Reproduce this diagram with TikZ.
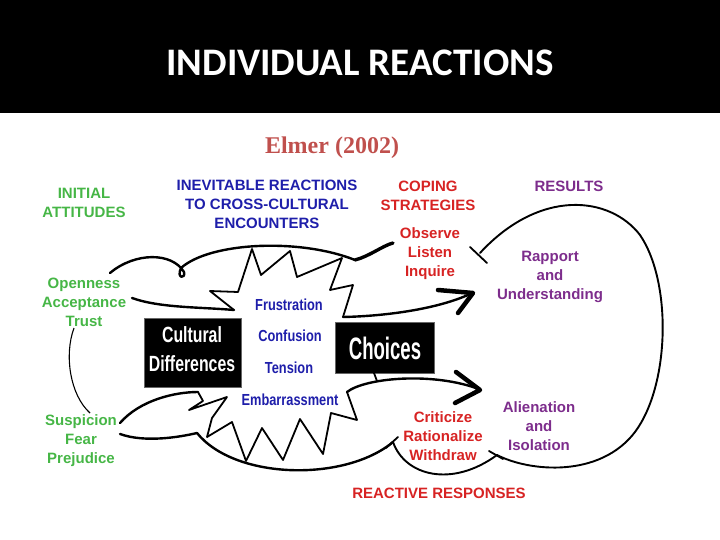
\documentclass[tikz,border=0pt]{standalone}
\usepackage{graphicx}
\usepackage{fontspec}
\setmainfont{Liberation Sans}
\newfontfamily\titlefont{Carlito}
\newfontfamily\elmerfont{Liberation Serif}
\definecolor{elmer}{RGB}{192,80,77}
\definecolor{grn}{RGB}{70,182,70}
\definecolor{blu}{RGB}{30,30,170}
\definecolor{rd}{RGB}{215,35,35}
\definecolor{pur}{RGB}{125,45,140}
\newcommand\cnd[2][0.8]{\scalebox{#1}[1]{#2}}
\begin{document}
\begin{tikzpicture}[x=1pt,y=-1pt,
  lab/.style={font=\bfseries\fontsize{15}{19}\selectfont, align=center, inner sep=0pt},
  cword/.style={font=\bfseries\fontsize{16}{18}\selectfont, text=blu, inner sep=0pt},
  blackbox/.style={fill=black, draw=black!60, line width=0.6pt},
  sk/.style={line width=2.4pt, line cap=round, line join=round},
  zz/.style={line width=1.8pt, line cap=round, line join=round},
  thin loop/.style={line width=1.9pt, line cap=round},
  head/.style={line width=4.5pt, line cap=round, line join=round}]
\useasboundingbox (0,0) rectangle (720,540);
% title band
\fill[black] (0,0) rectangle (720,113);
\node[text=white, inner sep=0pt, font=\titlefont\bfseries\fontsize{39}{40}\selectfont] (title) at (360,63) {INDIVIDUAL REACTIONS};
\node[text=elmer, inner sep=0pt, font=\elmerfont\bfseries\fontsize{24}{26}\selectfont] (elmer) at (332,148) {Elmer (2002)};

% headings
\node[lab, text=grn] (initial) at (84,203) {INITIAL\\ATTITUDES};
\node[lab, text=blu] (inevitable) at (267,204) {INEVITABLE REACTIONS\\TO CROSS-CULTURAL\\ENCOUNTERS};
\node[lab, text=rd] (coping) at (428,196) {COPING\\STRATEGIES};
\node[lab, text=pur] (results) at (569,186) {RESULTS};

% side labels
\node[lab, text=grn] (open) at (84,302) {Openness\\Acceptance\\Trust};
\node[lab, text=grn] (susp) at (81,441) {Suspicion\\Fear\\Prejudice};
\node[lab, text=rd] (observe) at (430,254) {Observe\\Listen\\Inquire};
\node[lab, text=pur] (rapport) at (550,277) {Rapport\\and\\Understanding};
\node[lab, text=rd] (criticize) at (443,436) {Criticize\\Rationalize\\Withdraw};
\node[lab, text=pur] (alien) at (539,426) {Alienation\\and\\Isolation};
\node[lab, text=rd] (reactive) at (439,493) {REACTIVE RESPONSES};

% boxes
\draw[blackbox] (144,318) rectangle (241,387);
\node[text=white, align=center, inner sep=0pt, font=\bfseries\fontsize{22}{29}\selectfont] (cultural) at (192,349) {\cnd[0.72]{Cultural}\\\cnd[0.72]{Differences}};
\draw[blackbox] (335,322) rectangle (434,373);
\node[text=white, inner sep=0pt, font=\bfseries\fontsize{31}{33}\selectfont] (choices) at (385,348) {\cnd[0.6]{Choices}};

% centre words
\node[cword] (frus) at (289,305) {\cnd{Frustration}};
\node[cword] (conf) at (290,336) {\cnd{Confusion}};
\node[cword] (tens) at (289,368) {\cnd{Tension}};
\node[cword] (emb) at (290,400) {\cnd{Embarrassment}};

% named points
\coordinate (oA) at (110,273);
\coordinate (oB) at (132,298);
\coordinate (sA) at (120,423);
\coordinate (sB) at (120,434);
\coordinate (obsEnd) at (393,243);
\coordinate (upHead) at (473,293);
\coordinate (lowHead) at (480,390);
\coordinate (wdr) at (393,442);
\coordinate (iso) at (497,455);
\coordinate (obsTick) at (480,253);

% upper outline of the burst (from Openness)
\draw[sk] (oA) .. controls (135,252) and (172,252) .. (184,272)
  .. controls (186,279) and (176,279) .. (181,268)
  .. controls (210,242) and (300,238) .. (355,260);
\draw[sk, line width=3.4pt] (355,260) .. controls (370,256) and (382,246) .. (obsEnd);
\draw[sk] (oB) .. controls (160,308) and (200,307) .. (234,310);

% upper zigzag
\draw[zz] (234,310) -- (210,291) -- (238,292) -- (252,249) -- (261,275) -- (290,251)
  -- (297,277) -- (342,258) -- (330,290) -- (353,285) -- (343,317);

% upper exit arrow
\draw[sk] (343,317) .. controls (390,316) and (440,308) .. (470,294);
\draw[head] (438,290) -- (upHead) -- (458,313);

% Suspicion lines
\draw[sk] (sA) .. controls (140,400) and (175,392) .. (198,392);
\draw[sk] (sB) .. controls (145,443) and (180,437) .. (197,433);

% lower zigzag
\draw[zz] (198,392) -- (203,401) -- (189,410) -- (227,397) -- (212,418) -- (207,437)
  -- (232,422) -- (246,461) -- (262,428) -- (283,460) -- (300,419) -- (323,454)
  -- (331,413) -- (357,420) -- (347,392);

% bottom arc
\draw[sk] (197,433) .. controls (235,480) and (345,482) .. (wdr);

% lower exit arrow
\draw[sk] (347,392) .. controls (365,378) and (430,372) .. (476,388);
\draw[head] (456,372) -- (lowHead) -- (455,403);
\draw[zz] (374,373) -- (377,381);

% feedback loop
\draw[thin loop] (wdr) .. controls (405,476) and (452,488) .. (iso);
\draw[thin loop] (iso) .. controls (530,472) and (600,478) .. (635,432)
  .. controls (670,385) and (672,282) .. (640,235)
  .. controls (610,196) and (540,188) .. (obsTick);
\draw[zz] (386,448) -- (398,437);
\draw[zz] (489,451) -- (503,459);
\draw[zz] (470,247) -- (487,263);

% thin arc between attitudes
\draw[line width=1.1pt] (74,328) .. controls (64,355) and (70,395) .. (90,413);
\end{tikzpicture}
\end{document}
